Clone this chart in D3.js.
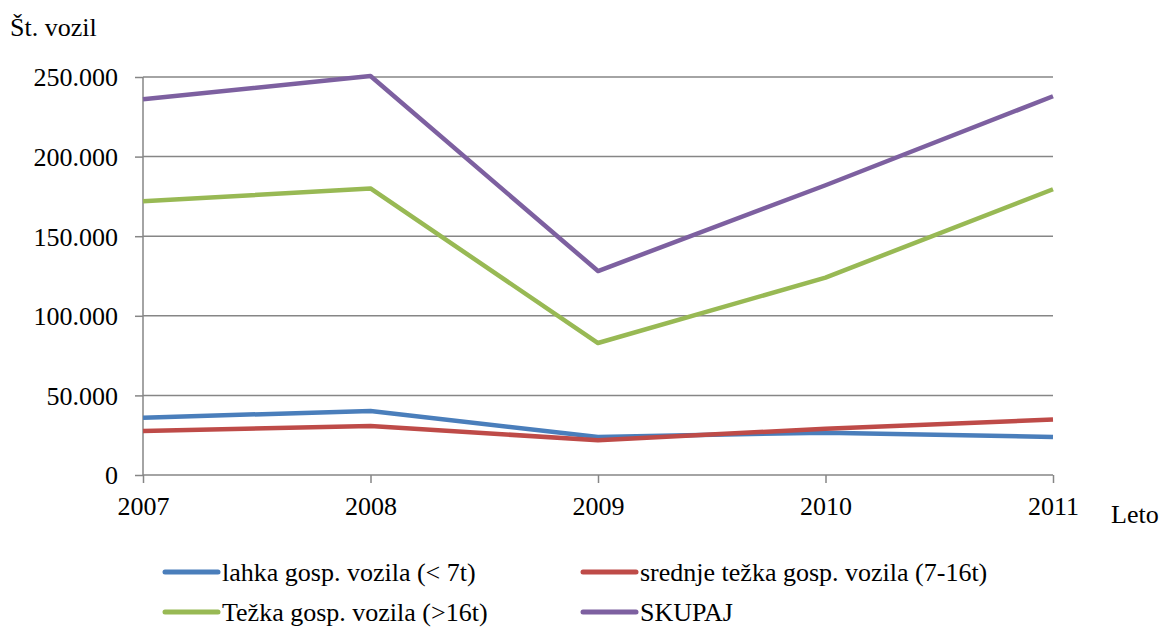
<!DOCTYPE html>
<html>
<head>
<meta charset="utf-8">
<script src="https://cdn.jsdelivr.net/npm/d3@7/dist/d3.min.js"></script>
<style>
  html, body { margin: 0; padding: 0; background: #fff; }
  svg { display: block; }
  svg text { font-family: "Liberation Serif" !important; }
</style>
</head>
<body>
<svg id="chart" width="1160" height="628" font-family="Liberation Serif"></svg>
<script>
// Number of commercial vehicles by weight class, 2007–2011
const years = ["2007", "2008", "2009", "2010", "2011"];
const lahka = [36000, 40200, 23900, 26600, 23900];
const srednje = [27600, 30800, 21800, 29100, 34800];
const tezka = [171900, 180000, 82900, 124000, 179500];
const skupaj = [236000, 250600, 128100, 182000, 237900];
const yTicks = [0, 50000, 100000, 150000, 200000, 250000];

const seriesNames = [
  "lahka gosp. vozila (< 7t)",
  "srednje težka gosp. vozila (7-16t)",
  "Težka gosp. vozila (>16t)",
  "SKUPAJ"
];
const seriesColors = ["#4A7EBB", "#BE4B48", "#98B954", "#7D60A0"];
const series = [lahka, srednje, tezka, skupaj].map((values, i) => ({
  name: seriesNames[i], color: seriesColors[i], values
}));

const FONT = '"Liberation Serif"';
const SIZE = "26px";
const svg = d3.select("#chart");
const plotLeft = 143, plotRight = 1053, plotTop = 77, plotBottom = 475;

const x = d3.scalePoint().domain(years).range([plotLeft, plotRight]);
const y = d3.scaleLinear().domain([0, 250000]).range([plotBottom, plotTop]);

const fmt = v => v === 0 ? "0" : d3.format(",")(v).replace(/,/g, ".");

// apply the serif face to a text selection
const serif = sel => sel
  .attr("font-family", "Liberation Serif")
  .style("font-family", FONT)
  .style("font-size", SIZE)
  .attr("fill", "#000");

// horizontal gridlines
svg.append("g")
  .selectAll("line")
  .data(yTicks.filter(t => t > 0))
  .join("line")
  .attr("x1", plotLeft).attr("x2", plotRight)
  .attr("y1", d => y(d)).attr("y2", d => y(d))
  .attr("stroke", "#868686").attr("stroke-width", 1.5);

// y axis
const yAxis = svg.append("g")
  .attr("transform", `translate(${plotLeft},0)`)
  .call(d3.axisLeft(y).tickValues(yTicks).tickSize(8).tickPadding(17).tickFormat(fmt));
yAxis.attr("font-family", "Liberation Serif").attr("font-size", null);
yAxis.select(".domain").attr("stroke", "#868686").attr("stroke-width", 1.5)
  .attr("d", `M0,${plotTop}V${plotBottom}`);
yAxis.selectAll(".tick line").attr("stroke", "#868686").attr("stroke-width", 1.5);
yAxis.selectAll(".tick text").call(serif).attr("dy", "0.34em");

// x axis
const xAxis = svg.append("g")
  .attr("transform", `translate(0,${plotBottom})`)
  .call(d3.axisBottom(x).tickSize(8).tickPadding(14));
xAxis.attr("font-family", "Liberation Serif").attr("font-size", null);
xAxis.select(".domain").attr("stroke", "#868686").attr("stroke-width", 1.5)
  .attr("d", `M${plotLeft},0H${plotRight}`);
xAxis.selectAll(".tick line").attr("stroke", "#868686").attr("stroke-width", 1.5);
xAxis.selectAll(".tick text").call(serif).attr("dy", "0.71em");

// axis titles
svg.append("text").attr("x", 10).attr("y", 36).call(serif).text("Št. vozil");
svg.append("text").attr("x", 1111).attr("y", 523).call(serif).text("Leto");

// series lines
const line = d3.line().x((d, i) => x(years[i])).y(d => y(d));
svg.append("g")
  .selectAll("path")
  .data(series)
  .join("path")
  .attr("d", d => line(d.values))
  .attr("fill", "none")
  .attr("stroke", d => d.color)
  .attr("stroke-width", 4.5)
  .attr("stroke-linejoin", "round");

// legend (two columns, two rows)
const legendPos = [[165, 572], [583, 572], [165, 612], [583, 612]];
const legend = svg.append("g")
  .selectAll("g")
  .data(series)
  .join("g")
  .attr("transform", (d, i) => `translate(${legendPos[i][0]},${legendPos[i][1]})`);
legend.append("line")
  .attr("x1", 0).attr("x2", 53).attr("y1", 0).attr("y2", 0)
  .attr("stroke", d => d.color).attr("stroke-width", 5).attr("stroke-linecap", "round");
legend.append("text")
  .attr("x", 57).attr("y", 9)
  .call(serif)
  .text(d => d.name);
</script>
</body>
</html>
